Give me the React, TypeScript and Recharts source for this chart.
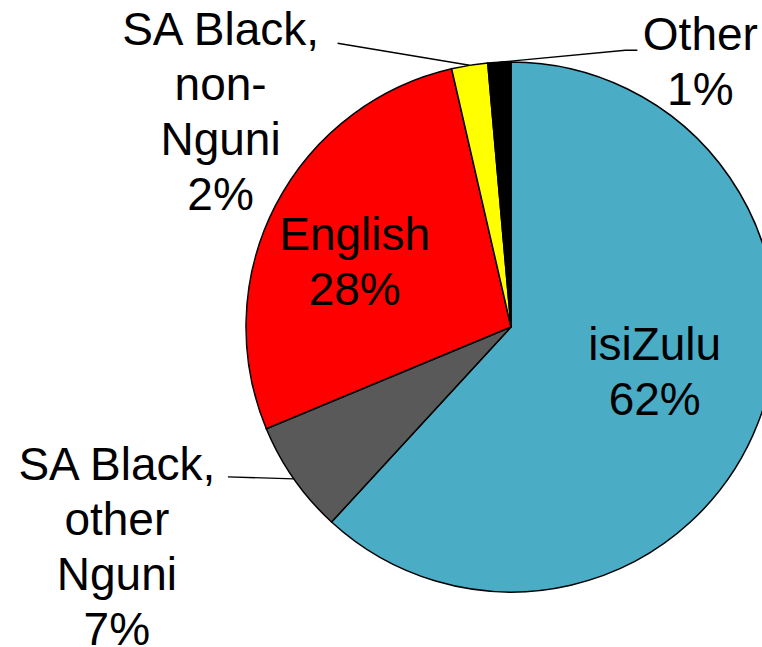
import React from 'react';
import { Cell, Pie, PieChart } from 'recharts';

const languages = ['isiZulu', 'SA Black, other Nguni', 'English', 'SA Black, non-Nguni', 'Other'];
const shares = [61.9, 6.9, 27.7, 2.2, 1.4];
const labelLines = [['isiZulu'], ['SA Black,', 'other', 'Nguni'], ['English'], ['SA Black,', 'non-', 'Nguni'], ['Other']];
const colors = ['#4BACC6', '#595959', '#FF0000', '#FFFF00', '#000000'];

const data = languages.map((name, i) => ({ name, value: shares[i] }));

// label placement relative to the slice: inside labels use a point at 57% radius,
// outside ones hang off the edge point with a leader line
const placement = [
  { inside: true, dx: 3, dy: -22, line: [] as number[][] },
  { inside: false, dx: -177, dy: 1, line: [[-66, -2]] },
  { inside: true, dx: -22, dy: -8, line: [] },
  { inside: false, dx: -249, dy: -20, line: [[-132, -22]] },
  { inside: false, dx: 201, dy: -12, line: [[126, -12], [138, -12]] },
];

const FONT = '"Liberation Sans", Arial, sans-serif';
const FS = 46;
const LH = 55;
const RAD = Math.PI / 180;

function renderLabel(props: any) {
  const { cx, cy, midAngle, outerRadius, index, percent } = props;
  const p = placement[index];
  const r = p.inside ? outerRadius * 0.57 : outerRadius;
  const ax = cx + r * Math.cos(-midAngle * RAD);
  const ay = cy + r * Math.sin(-midAngle * RAD);
  const lines = [...labelLines[index], `${Math.round(percent * 100)}%`];
  const x = ax + p.dx;
  const y = ay + p.dy;
  const pts = [[ax, ay], ...p.line.map(([lx, ly]) => [ax + lx, ay + ly])];
  return (
    <g key={`lbl-${index}`}>
      {pts.length > 1 && (
        <polyline
          points={pts.map((q) => q.join(',')).join(' ')}
          fill="none"
          stroke="#000"
          strokeWidth={1.3}
        />
      )}
      <text x={x} y={y} textAnchor="middle" fontFamily={FONT} fontSize={FS} fill="#000">
        {lines.map((t, i) => (
          <tspan key={i} x={x} y={y + i * LH}>
            {t}
          </tspan>
        ))}
      </text>
    </g>
  );
}

export default function App() {
  return (
    <div style={{ position: 'absolute', left: 0, top: 0, width: 762, height: 647, background: '#fff' }}>
      <PieChart width={762} height={647} margin={{ top: 0, right: 0, bottom: 0, left: 0 }}>
        <Pie
          data={data}
          dataKey="value"
          nameKey="name"
          cx={511}
          cy={327}
          outerRadius={265}
          startAngle={90}
          endAngle={-270}
          stroke="#000"
          strokeWidth={1.5}
          label={renderLabel}
          labelLine={false}
          isAnimationActive={false}
        >
          {data.map((d, i) => (
            <Cell key={d.name} fill={colors[i]} />
          ))}
        </Pie>
      </PieChart>
    </div>
  );
}
